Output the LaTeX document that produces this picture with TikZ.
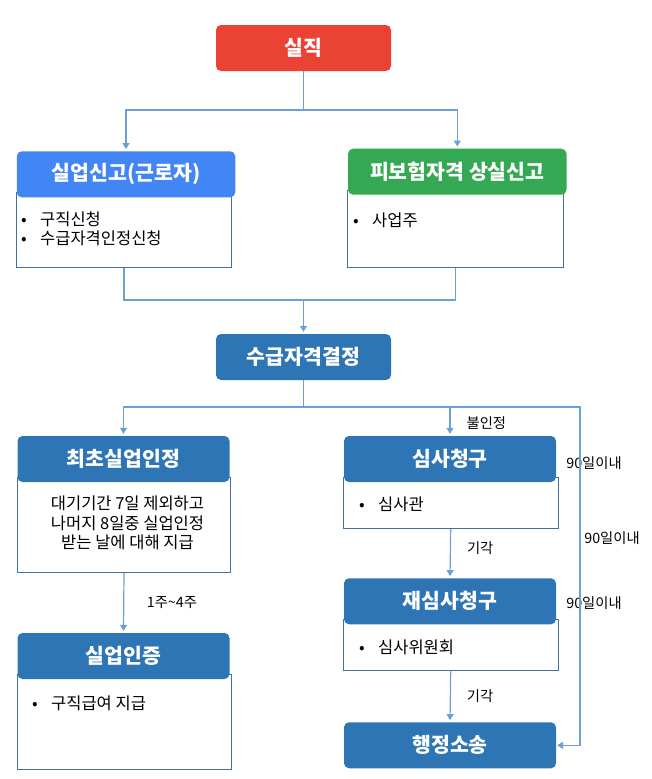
\documentclass[tikz,border=0pt]{standalone}
\usepackage{fontspec}
\setmainfont{Noto Sans CJK KR}
\usepackage{xcolor}
\usetikzlibrary{arrows.meta}
\usetikzlibrary{calc}
\usetikzlibrary{positioning}

\definecolor{lossred}{HTML}{EA4335}
\definecolor{reportblue}{HTML}{4285F4}
\definecolor{lossgreen}{HTML}{34A853}
\definecolor{stageblue}{HTML}{2E75B6}
\definecolor{linkblue}{HTML}{6A9FD8}
\definecolor{edgeblue}{HTML}{41719C}

\tikzset{
  titlebox/.style={rectangle, rounded corners=5pt, inner sep=0pt, text=white,
    font=\bfseries\fontsize{20.5}{23}\selectfont, minimum height=46pt},
  bodybox/.style={rectangle, draw=edgeblue, line width=0.9pt, inner sep=0pt, anchor=north west},
  bodytext/.style={inner sep=0pt, anchor=west, align=left, font=\fontsize{16.5}{19.5}\selectfont},
  flowline/.style={draw=linkblue, line width=1.2pt},
  flowarrow/.style={flowline, -{Triangle[length=6pt,width=7pt]}},
  steplabel/.style={inner sep=0pt, font=\fontsize{14.3}{16}\selectfont}
}
\newcommand{\blt}{\makebox[19pt][l]{•}}

\begin{document}
\begin{tikzpicture}[x=1pt,y=-1pt]
    \useasboundingbox (0,0) rectangle (652,779);
    \newcommand{\figflowleftx}{123.5}
    \newcommand{\figflowmidx}{303.5}
    \newcommand{\figflowrightx}{450}
    \newcommand{\figflowappealx}{580}
    % bodies under the titles
    \node[bodybox, minimum width=214.5pt, minimum height=75pt] (reportbody) at (16.3,192) {};
    \node[bodybox, minimum width=215.5pt, minimum height=77pt] (lossbody) at (347,190) {};
    \node[bodybox, minimum width=213.7pt, minimum height=95pt] (firstbody) at (16.7,477) {};
    \node[bodybox, minimum width=214.5pt, minimum height=95pt] (certbody) at (16.5,674) {};
    \node[bodybox, minimum width=214.5pt, minimum height=51pt] (reviewbody) at (343,477) {};
    \node[bodybox, minimum width=214.5pt, minimum height=51pt] (rereviewbody) at (343,619) {};
    % titles
    \node[titlebox, fill=lossred, minimum width=175pt] (jobloss) at (\figflowmidx,48) {실직};
    \node[titlebox, fill=reportblue, minimum width=218.5pt] (report) at (126,174.3) {실업신고(근로자)};
    \node[titlebox, fill=lossgreen, minimum width=218.5pt] (lossrep) at (457.3,171.7) {피보험자격 상실신고};
    \node[titlebox, fill=stageblue, minimum width=175pt] (decide) at (\figflowmidx,357) {수급자격결정};
    \node[titlebox, fill=stageblue, minimum width=212pt] (first) at (\figflowleftx,459) {최초실업인정};
    \node[titlebox, fill=stageblue, minimum width=212pt] (cert) at (\figflowleftx,656) {실업인증};
    \node[titlebox, fill=stageblue, minimum width=212pt] (review) at (\figflowrightx,459) {심사청구};
    \node[titlebox, fill=stageblue, minimum width=212pt] (rereview) at (\figflowrightx,601.3) {재심사청구};
    \node[titlebox, fill=stageblue, minimum width=212pt] (suit) at (\figflowrightx,745.3) {행정소송};
    % body texts
    \node[bodytext] (reporttext) at (21,229) {\blt 구직신청\\ \blt 수급자격인정신청};
    \node[bodytext] (losstext) at (353,220) {\blt 사업주};
    \node[bodytext, align=center, anchor=center] (firsttext) at (127.5,523) {대기기간 7일 제외하고\\ 나머지 8일중 실업인정\\ 받는 날에 대해 지급};
    \node[bodytext] (certtext) at (32,703) {\blt 구직급여 지급};
    \node[bodytext] (reviewtext) at (359,504) {\blt 심사관};
    \node[bodytext] (rereviewtext) at (359,647) {\blt 심사위원회};
    % deadline labels
    \node[steplabel] (daysa) at (594,463) {90일이내};
    \node[steplabel] (daysb) at (612,538) {90일이내};
    \node[steplabel] (daysc) at (594,603) {90일이내};
    % connectors
    \coordinate (splittop) at (\figflowmidx,110);
    \coordinate (mergemid) at (\figflowmidx,300);
    \coordinate (splitmid) at (\figflowmidx,407);
    \coordinate (appealcorner) at (\figflowappealx,407);
    \draw[flowline] (jobloss.south) -- (splittop);
    \draw[flowarrow, shorten >=2pt] (splittop) -| (report.north);
    \draw[flowarrow, shorten >=2pt] (splittop) -| (lossrep.north);
    \draw[flowline] (reportbody.south) |- (mergemid);
    \draw[flowline] (lossbody.south) |- (mergemid);
    \draw[flowarrow, shorten >=2pt] (mergemid) -- (decide.north);
    \draw[flowline] (decide.south) -- (splitmid);
    \draw[flowarrow, shorten >=2pt] (splitmid) -| (first.north);
    \draw[flowarrow, shorten >=2pt] (splitmid) -| node[steplabel, pos=0.78, right=16pt] {불인정} (review.north);
    \draw[flowarrow, shorten >=1pt] (splitmid) -- (appealcorner) |- (suit.east);
    \draw[flowarrow, shorten >=2pt] (firstbody.south) -- node[steplabel, right=22.5pt] {1주\textasciitilde 4주} (cert.north);
    \draw[flowarrow, shorten >=2pt] (reviewbody.south) -- node[steplabel, pos=0.4, right=16pt] {기각} (rereview.north);
    \draw[flowarrow, shorten >=2pt] (rereviewbody.south) -- node[steplabel, right=16pt] {기각} (suit.north);
\end{tikzpicture}
\end{document}
